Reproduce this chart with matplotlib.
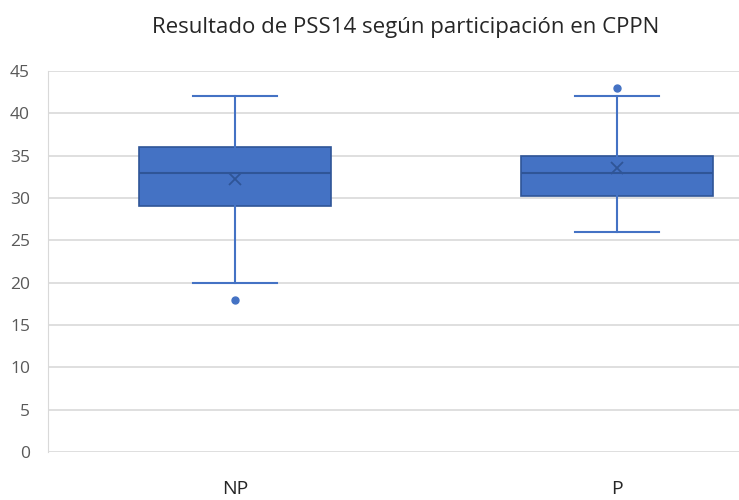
import matplotlib.pyplot as plt

# box statistics
groups = ["NP", "P"]
q1 = [29.0, 30.2]
medians = [33.0, 33.0]
q3 = [36.0, 35.0]
whislo = [20.0, 26.0]
whishi = [42.0, 42.0]
means = [32.3, 33.5]
outliers = [[18.0], [43.0]]
yticks = [0, 5, 10, 15, 20, 25, 30, 35, 40, 45]

fill = "#4472C4"
edge = "#2F5597"

plt.rcParams["font.family"] = ["Open Sans", "DejaVu Sans"]

fig = plt.figure(figsize=(7.39, 5.0), dpi=100)
ax = fig.add_axes([48 / 739, 0.096, 1 - 48 / 739, 0.762])

stats = []
for i, g in enumerate(groups):
    stats.append({
        "label": g, "q1": q1[i], "med": medians[i], "q3": q3[i],
        "whislo": whislo[i], "whishi": whishi[i], "mean": means[i],
        "fliers": outliers[i],
    })

ax.bxp(stats, positions=[1, 2], widths=0.503, patch_artist=True, showmeans=True,
       boxprops=dict(facecolor=fill, edgecolor=edge, linewidth=1.2),
       medianprops=dict(color=edge, linewidth=1.5),
       whiskerprops=dict(color=fill, linewidth=1.5),
       capprops=dict(color=fill, linewidth=1.5),
       capwidths=0.22,
       meanprops=dict(marker="x", markeredgecolor=edge, markersize=9, markeredgewidth=1.3),
       flierprops=dict(marker="o", markerfacecolor=fill, markeredgecolor=fill, markersize=5))

ax.set_xlim(0.5105, 2.319)
ax.set_ylim(0, 45)
ax.set_yticks(yticks)
ax.yaxis.grid(True, color="#D9D9D9", linewidth=1.2)
ax.set_axisbelow(True)
for s in ["top", "right", "bottom"]:
    ax.spines[s].set_visible(False)
ax.spines["left"].set_color("#D9D9D9")
ax.tick_params(axis="y", length=0, labelsize=12.5, labelcolor="#595959", pad=13)
ax.tick_params(axis="x", length=0, labelsize=14, labelcolor="#262626", pad=20)

fig.text(406 / 739, 1 - 27 / 500, "Resultado de PSS14 según participación en CPPN",
         ha="center", va="center", fontsize=16, color="#262626")

fig.savefig("out.png", dpi=100)
